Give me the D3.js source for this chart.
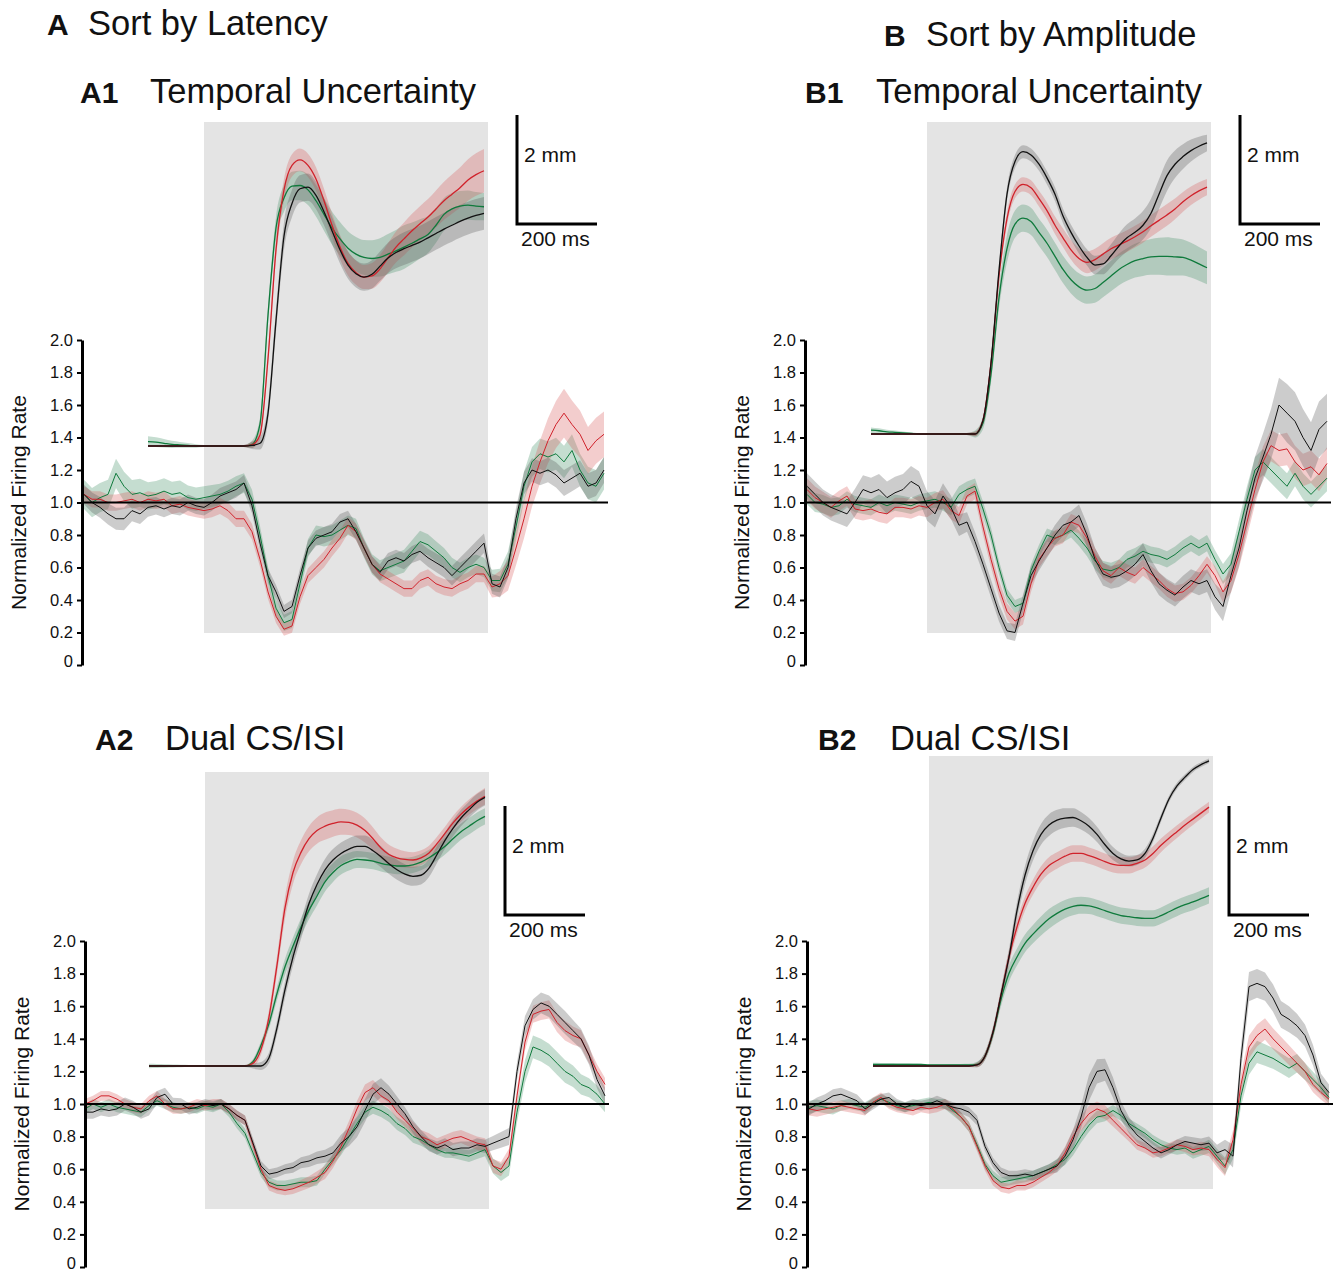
<!DOCTYPE html>
<html>
<head>
<meta charset="utf-8">
<script src="https://cdn.jsdelivr.net/npm/d3@7"></script>
<style>
  body { margin: 0; background: #fff; }
  svg { display: block; }
  text { font-family: "Liberation Sans", Arial, Helvetica, sans-serif; fill: #111; }
</style>
</head>
<body>
<svg id="fig" width="1339" height="1271"></svg>
<script>
// ---------- sample grids ----------
const fireTimes = d3.range(-300, 1001, 20);          // firing-rate samples, ms from CS onset
const lidTimes = d3.range(-140, 701, 20);            // eyelid samples, ms from CS onset
const fireSemKnots = d3.range(-300, 1001, 100);      // times where firing SEM is given
const lidSemKnots = [-140, 0, 100, 200, 300, 400, 500, 600, 700];
const rateTicks = [0, 0.2, 0.4, 0.6, 0.8, 1.0, 1.2, 1.4, 1.6, 1.8, 2.0];
const csDuration = 710;
const rateLabel = "Normalized Firing Rate";

// ---------- A1: temporal uncertainty, sorted by latency ----------
const fireA1Black = [1.05,1.0,0.97,0.93,0.9, 0.9,0.95,0.93,0.97,0.98, 0.96,0.98,0.97,1.0,0.98,
  0.97,1.0,1.04,1.06,1.08, 1.12,0.98,0.75,0.55,0.45, 0.33,0.36,0.55,0.72,0.78, 0.8,0.82,0.88,0.9,0.82,
  0.72,0.62,0.57,0.64,0.66, 0.64,0.68,0.7,0.66,0.63, 0.6,0.55,0.6,0.65,0.7, 0.75,0.5,0.48,0.6,0.9,
  1.12,1.2,1.18,1.2,1.17, 1.12,1.15,1.18,1.1,1.12, 1.2];
const fireA1Red = [1.05,1.02,1.02,1.0,1.0, 1.01,1.02,1.0,1.02,1.01, 1.02,0.98,0.99,0.97,0.96,
  0.95,0.96,0.98,0.95,0.9, 0.9,0.82,0.65,0.45,0.3, 0.22,0.24,0.42,0.55,0.6, 0.65,0.72,0.78,0.86,0.82,
  0.72,0.62,0.56,0.53,0.5, 0.47,0.47,0.52,0.54,0.5, 0.48,0.47,0.5,0.52,0.56, 0.56,0.48,0.5,0.55,0.72,
  0.9,1.1,1.25,1.38,1.48, 1.55,1.48,1.42,1.32,1.38, 1.42];
const fireA1Green = [1.05,1.0,1.03,1.05,1.18, 1.1,1.05,1.06,1.04,1.05, 1.07,1.05,1.06,1.03,1.02,
  1.03,1.04,1.05,1.07,1.1, 1.12,1.02,0.8,0.55,0.35, 0.26,0.28,0.5,0.72,0.8, 0.79,0.8,0.83,0.86,0.84,
  0.72,0.62,0.58,0.6,0.62, 0.64,0.7,0.76,0.74,0.7, 0.66,0.6,0.57,0.6,0.62, 0.6,0.52,0.52,0.62,0.85,
  1.1,1.25,1.3,1.28,1.3, 1.25,1.32,1.2,1.12,1.1, 1.18];
const semFireA1Black = [0.06,0.07,0.05,0.05,0.05,0.04,0.05,0.05,0.05,0.06,0.06,0.07,0.08,0.08];
const semFireA1Red = [0.05,0.05,0.05,0.05,0.05,0.04,0.05,0.05,0.05,0.05,0.05,0.12,0.15,0.14];
const semFireA1Green = [0.09,0.09,0.08,0.07,0.06,0.05,0.06,0.06,0.07,0.06,0.06,0.09,0.1,0.1];

const lidA1Black = [0,0,0,0,0,0,0,0,0,0,0,0,0,0.01,
  0.05,0.6,2.3,3.85,4.45, 4.72,4.75,4.6,4.3,3.95, 3.6,3.32,3.16,3.1,3.15,
  3.3,3.45,3.55,3.62,3.68, 3.74,3.82,3.9,3.98,4.05, 4.12,4.18,4.23,4.27];
const lidA1Red = [0,0,0,0,0,0,0,0,0,0,0,0,0,0.02,
  0.2,1.6,3.6,4.7,5.15, 5.25,5.15,4.9,4.5,4.05, 3.65,3.35,3.18,3.1,3.12,
  3.25,3.45,3.65,3.8,3.95, 4.08,4.2,4.35,4.5,4.62, 4.74,4.88,4.98,5.05];
const lidA1Green = [0.08,0.07,0.05,0.03,0.02,0.01,0,0,0,0,0,0,0,0.03,
  0.4,2.4,4.0,4.55,4.77, 4.78,4.7,4.5,4.25,4.0, 3.8,3.63,3.52,3.46,3.44,
  3.46,3.52,3.58,3.65,3.72, 3.8,3.88,4.05,4.25,4.35, 4.4,4.42,4.4,4.39];
const semLidA1Black = [0.02,0.01,0.02,0.25,0.25,0.25,0.3,0.3,0.3];
const semLidA1Red = [0.02,0.01,0.02,0.2,0.22,0.22,0.3,0.35,0.4];
const semLidA1Green = [0.1,0.02,0.02,0.25,0.3,0.32,0.4,0.3,0.25];

// ---------- B1: temporal uncertainty, sorted by amplitude ----------
const fireB1Black = [1.1,1.05,1.0,0.97,0.95, 0.93,1.0,1.08,1.06,1.08, 1.03,1.06,1.08,1.13,1.1,
  0.98,0.93,1.04,0.97,0.86, 0.88,0.76,0.62,0.47,0.32, 0.21,0.2,0.38,0.55,0.64, 0.72,0.8,0.86,0.88,0.92,
  0.8,0.65,0.56,0.54,0.55, 0.58,0.62,0.68,0.58,0.5, 0.46,0.43,0.48,0.52,0.5, 0.52,0.42,0.36,0.55,0.72,
  0.95,1.15,1.28,1.42,1.6, 1.55,1.5,1.4,1.32,1.45, 1.5];
const fireB1Red = [1.08,1.03,1.0,0.97,1.01, 1.04,0.96,0.95,0.96,0.94, 0.93,0.97,0.97,0.96,0.98,
  0.97,1.0,1.02,0.95,0.92, 1.04,1.07,0.85,0.65,0.47, 0.33,0.27,0.3,0.5,0.65, 0.72,0.78,0.8,0.88,0.86,
  0.78,0.67,0.58,0.55,0.6, 0.57,0.55,0.6,0.56,0.52, 0.47,0.44,0.45,0.49,0.55, 0.62,0.55,0.45,0.52,0.68,
  0.88,1.08,1.25,1.35,1.32, 1.33,1.25,1.2,1.22,1.17, 1.24];
const fireB1Green = [1.05,1.0,0.99,0.97,0.98, 1.02,0.99,0.98,0.97,1.0, 0.98,1.0,0.99,0.98,1.0,
  1.01,1.02,1.0,0.97,1.05, 1.08,1.1,0.96,0.8,0.6, 0.43,0.36,0.38,0.58,0.7, 0.8,0.78,0.8,0.83,0.78,
  0.72,0.64,0.59,0.58,0.6, 0.65,0.67,0.7,0.68,0.67, 0.65,0.68,0.72,0.75,0.72, 0.75,0.65,0.56,0.62,0.82,
  1.02,1.2,1.25,1.2,1.15, 1.1,1.18,1.1,1.05,1.1, 1.15];
const semFireB1Black = [0.08,0.08,0.1,0.09,0.06,0.05,0.06,0.07,0.07,0.07,0.07,0.12,0.18,0.17];
const semFireB1Red = [0.07,0.06,0.06,0.06,0.05,0.05,0.05,0.05,0.05,0.05,0.05,0.09,0.1,0.1];
const semFireB1Green = [0.06,0.05,0.05,0.05,0.05,0.04,0.04,0.05,0.05,0.05,0.05,0.08,0.08,0.08];

const lidB1Black = [0,0,0,0,0,0,0,0,0,0,0,0,0,0,
  0.25,1.3,3.0,4.4,5.0, 5.18,5.12,4.95,4.7,4.4, 4.0,3.7,3.45,3.24,3.1,
  3.12,3.27,3.45,3.6,3.7, 3.83,4.05,4.4,4.74,4.95, 5.09,5.2,5.28,5.34];
const lidB1Red = [0,0,0,0,0,0,0,0,0,0,0,0,0,0,
  0.25,1.3,2.9,3.95,4.45, 4.58,4.52,4.32,4.1,3.83, 3.6,3.38,3.22,3.15,3.2,
  3.3,3.4,3.47,3.54,3.62, 3.71,3.82,3.92,4.02,4.13, 4.26,4.37,4.46,4.53];
const lidB1Green = [0.07,0.06,0.04,0.03,0.02,0.01,0,0,0,0,0,0,0,0,
  0.2,1.1,2.5,3.4,3.85, 3.96,3.9,3.7,3.5,3.26, 3.02,2.83,2.7,2.64,2.67,
  2.78,2.9,3.02,3.11,3.18, 3.22,3.25,3.26,3.26,3.25, 3.24,3.19,3.12,3.05];
const semLidB1Black = [0.02,0.01,0.02,0.12,0.12,0.15,0.25,0.28,0.15];
const semLidB1Red = [0.02,0.01,0.02,0.12,0.15,0.2,0.2,0.2,0.15];
const semLidB1Green = [0.05,0.01,0.02,0.25,0.25,0.25,0.3,0.35,0.3];

// ---------- A2: dual CS/ISI, sorted by latency ----------
const fireA2Black = [0.95,0.95,0.97,0.96,0.97, 1.0,0.98,0.95,0.97,1.04, 1.06,1.0,1.0,0.97,0.98,
  1.0,0.99,1.0,0.97,0.93, 0.9,0.76,0.62,0.57,0.58, 0.6,0.61,0.64,0.65,0.67, 0.68,0.7,0.76,0.8,0.86,
  0.96,1.06,1.1,1.06,1.0, 0.94,0.86,0.8,0.75,0.73, 0.75,0.72,0.73,0.73,0.75, 0.74,0.76,0.78,0.8,1.2,
  1.48,1.58,1.62,1.6,1.55, 1.5,1.45,1.4,1.3,1.15, 1.05];
const fireA2Red = [1.0,1.02,1.05,1.05,1.03, 1.0,0.98,0.97,1.02,1.05, 1.0,0.97,0.97,0.98,1.0,
  0.99,1.0,1.0,0.97,0.93, 0.9,0.75,0.6,0.5,0.48, 0.47,0.48,0.5,0.52,0.55, 0.58,0.65,0.74,0.85,0.97,
  1.07,1.1,1.05,1.02,0.95, 0.9,0.85,0.8,0.78,0.75, 0.77,0.79,0.8,0.78,0.76, 0.75,0.62,0.6,0.68,1.05,
  1.38,1.55,1.57,1.58,1.5, 1.45,1.42,1.4,1.3,1.2, 1.12];
const fireA2Green = [0.97,1.0,0.98,1.0,0.98, 0.97,0.96,0.95,0.99,1.02, 1.0,0.98,0.97,0.98,0.97,
  0.99,0.98,1.0,0.95,0.88, 0.82,0.7,0.58,0.52,0.5, 0.5,0.51,0.52,0.52,0.53, 0.6,0.66,0.72,0.8,0.88,
  0.95,0.98,0.96,0.93,0.88, 0.85,0.8,0.78,0.75,0.72, 0.7,0.7,0.69,0.68,0.7, 0.72,0.62,0.58,0.62,0.95,
  1.2,1.35,1.33,1.3,1.25, 1.2,1.17,1.12,1.1,1.06, 1.0];
const semFireA2Black = [0.04,0.04,0.04,0.03,0.03,0.03,0.04,0.07,0.04,0.04,0.04,0.06,0.07,0.05];
const semFireA2Red = [0.03,0.03,0.03,0.03,0.03,0.03,0.04,0.05,0.04,0.04,0.04,0.05,0.06,0.04];
const semFireA2Green = [0.03,0.03,0.03,0.03,0.03,0.03,0.03,0.04,0.04,0.03,0.04,0.07,0.07,0.05];

const lidA2Black = [0,0,0,0,0,0,0,0,0,0,0,0,0,0,0,
  0.15,0.7,1.4,2.0,2.5, 2.98,3.33,3.6,3.78,3.9, 3.98,4.03,4.03,3.95,3.84,
  3.71,3.6,3.52,3.48,3.5, 3.63,3.88,4.14,4.36,4.55, 4.7,4.84,4.93];
const lidA2Red = [0,0,0,0,0,0,0,0,0,0,0,0,0,
  0.05,0.3,0.9,1.85,2.9, 3.55,3.92,4.17,4.32,4.4, 4.45,4.48,4.47,4.42,4.32,
  4.17,4.0,3.88,3.82,3.79, 3.78,3.82,3.91,4.08,4.27, 4.46,4.62,4.75,4.86,4.95];
const lidA2Green = [0,0,0,0,0,0,0,0,0,0,0,0,0,
  0.08,0.38,0.78,1.33,1.82, 2.2,2.55,2.86,3.12,3.38, 3.55,3.68,3.75,3.79,3.78,
  3.76,3.72,3.69,3.67,3.67, 3.69,3.74,3.82,3.92,4.03, 4.17,4.3,4.4,4.5,4.58];
const semLidA2Black = [0.02,0.01,0.02,0.15,0.2,0.2,0.18,0.15,0.15];
const semLidA2Red = [0.02,0.01,0.02,0.2,0.25,0.22,0.15,0.12,0.15];
const semLidA2Green = [0.04,0.01,0.02,0.15,0.18,0.15,0.15,0.15,0.15];

// ---------- B2: dual CS/ISI, sorted by amplitude ----------
const fireB2Black = [0.97,1.0,1.02,1.05,1.06, 1.04,1.02,0.97,1.0,1.03, 1.04,1.0,0.98,1.0,0.99,
  1.0,1.02,1.0,0.98,0.97, 0.95,0.9,0.74,0.64,0.58, 0.56,0.56,0.57,0.56,0.58, 0.6,0.62,0.68,0.78,0.92,
  1.1,1.2,1.21,1.1,0.96, 0.87,0.81,0.77,0.73,0.7, 0.72,0.75,0.77,0.76,0.75, 0.76,0.7,0.72,0.68,1.28,
  1.72,1.74,1.72,1.65,1.55, 1.52,1.48,1.42,1.3,1.13, 1.07];
const fireB2Red = [0.97,0.96,0.97,0.98,0.99, 0.98,0.97,0.96,1.01,1.04, 1.0,0.98,0.97,0.96,0.98,
  0.97,0.98,1.0,0.97,0.92, 0.86,0.74,0.62,0.53,0.49, 0.48,0.5,0.5,0.52,0.55, 0.58,0.62,0.7,0.8,0.88,
  0.94,0.97,0.95,0.9,0.85, 0.8,0.75,0.73,0.7,0.71, 0.73,0.75,0.74,0.72,0.73, 0.72,0.66,0.61,0.78,1.12,
  1.35,1.42,1.46,1.4,1.35, 1.3,1.25,1.2,1.12,1.07, 1.03];
const fireB2Green = [0.98,0.99,0.98,0.97,0.99, 1.0,0.99,0.98,1.01,1.03, 1.01,0.99,0.98,0.99,1.0,
  1.01,1.0,1.0,0.96,0.92, 0.86,0.75,0.63,0.56,0.52, 0.53,0.54,0.55,0.56,0.58, 0.6,0.63,0.66,0.72,0.8,
  0.87,0.92,0.93,0.96,0.93, 0.88,0.85,0.82,0.78,0.75, 0.73,0.72,0.73,0.7,0.72, 0.74,0.68,0.62,0.72,1.05,
  1.25,1.32,1.3,1.28,1.25, 1.22,1.25,1.2,1.15,1.1, 1.04];
const semFireB2Black = [0.04,0.04,0.03,0.03,0.03,0.03,0.03,0.08,0.05,0.03,0.04,0.09,0.08,0.05];
const semFireB2Red = [0.04,0.03,0.03,0.03,0.03,0.03,0.03,0.05,0.03,0.03,0.04,0.07,0.06,0.04];
const semFireB2Green = [0.04,0.03,0.03,0.03,0.03,0.03,0.03,0.04,0.03,0.03,0.04,0.07,0.06,0.04];

const lidB2Black = [0,0,0,0,0,0,0,0,0,0,0,0,0,
  0.02,0.18,0.62,1.3,2.0, 2.85,3.5,3.95,4.25,4.42, 4.51,4.55,4.56,4.5,4.4,
  4.25,4.06,3.9,3.8,3.76, 3.78,3.9,4.18,4.55,4.9, 5.14,5.3,5.44,5.53,5.6];
const lidB2Red = [0,0,0,0,0,0,0,0,0,0,0,0,0,
  0.02,0.18,0.62,1.3,2.0, 2.55,2.98,3.28,3.52,3.68, 3.77,3.85,3.9,3.9,3.86,
  3.81,3.75,3.7,3.68,3.68, 3.72,3.78,3.9,4.05,4.18, 4.3,4.42,4.53,4.64,4.75];
const lidB2Green = [0.03,0.03,0.03,0.03,0.03,0.03,0.03,0.02,0.02,0.02,0.02,0.02,0.02,
  0.03,0.18,0.6,1.22,1.7, 2.0,2.25,2.42,2.57,2.7, 2.8,2.88,2.93,2.95,2.94,
  2.9,2.85,2.8,2.76,2.74, 2.72,2.71,2.71,2.76,2.83, 2.9,2.96,3.01,3.07,3.13];
const semLidB2Black = [0.02,0.01,0.02,0.15,0.2,0.15,0.1,0.06,0.04];
const semLidB2Red = [0.02,0.01,0.02,0.12,0.15,0.15,0.15,0.12,0.1];
const semLidB2Green = [0.03,0.01,0.02,0.15,0.18,0.15,0.15,0.15,0.15];

// ---------- styling ----------
const lineColor = { black: "#111111", red: "#d0222b", green: "#0f7a3c" };
const bandColor = { black: "#555555", red: "#d65a5a", green: "#3f8f63" };
const bandOpacity = 0.3;

// ---------- layout of the four panels ----------
const panels = [
  { label: "A1", title: "Temporal Uncertainty", labelX: 80, titleX: 150, titleY: 103,
    cs: 204, axisX: 82, axisTop: 340, axisBottom: 665, grayTop: 122, grayBottom: 633,
    lidBase: 446, barX: 517, barTop: 115,
    fire: [["green", fireA1Green, semFireA1Green], ["red", fireA1Red, semFireA1Red], ["black", fireA1Black, semFireA1Black]],
    lid: [["green", lidA1Green, semLidA1Green], ["red", lidA1Red, semLidA1Red], ["black", lidA1Black, semLidA1Black]] },
  { label: "B1", title: "Temporal Uncertainty", labelX: 805, titleX: 876, titleY: 103,
    cs: 927, axisX: 805, axisTop: 340, axisBottom: 665, grayTop: 122, grayBottom: 633,
    lidBase: 434, barX: 1240, barTop: 115,
    fire: [["green", fireB1Green, semFireB1Green], ["red", fireB1Red, semFireB1Red], ["black", fireB1Black, semFireB1Black]],
    lid: [["green", lidB1Green, semLidB1Green], ["red", lidB1Red, semLidB1Red], ["black", lidB1Black, semLidB1Black]] },
  { label: "A2", title: "Dual CS/ISI", labelX: 95, titleX: 165, titleY: 750,
    cs: 205, axisX: 85, axisTop: 941, axisBottom: 1267, grayTop: 772, grayBottom: 1209,
    lidBase: 1066, barX: 505, barTop: 806,
    fire: [["green", fireA2Green, semFireA2Green], ["red", fireA2Red, semFireA2Red], ["black", fireA2Black, semFireA2Black]],
    lid: [["green", lidA2Green, semLidA2Green], ["red", lidA2Red, semLidA2Red], ["black", lidA2Black, semLidA2Black]] },
  { label: "B2", title: "Dual CS/ISI", labelX: 818, titleX: 890, titleY: 750,
    cs: 929, axisX: 807, axisTop: 941, axisBottom: 1267, grayTop: 756, grayBottom: 1189,
    lidBase: 1066, barX: 1229, barTop: 806,
    fire: [["green", fireB2Green, semFireB2Green], ["red", fireB2Red, semFireB2Red], ["black", fireB2Black, semFireB2Black]],
    lid: [["green", lidB2Green, semLidB2Green], ["red", lidB2Red, semLidB2Red], ["black", lidB2Black, semLidB2Black]] }
];

const svg = d3.select("#fig");

// column headings
svg.append("text").attr("x", 47).attr("y", 35).attr("font-size", 30).attr("font-weight", "bold").text("A");
svg.append("text").attr("x", 88).attr("y", 35).attr("font-size", 34.5).text("Sort by Latency");
svg.append("text").attr("x", 884).attr("y", 46).attr("font-size", 30).attr("font-weight", "bold").text("B");
svg.append("text").attr("x", 926).attr("y", 46).attr("font-size", 34.5).text("Sort by Amplitude");

// mean traces with SEM bands
function drawTraces(g, times, knots, series, x, y, curve, width) {
  const rows = series.map(([key, values, semKnotVals]) => {
    const sem = d3.scaleLinear().domain(knots).range(semKnotVals);
    return { key, pts: times.map((t, i) => ({ t, v: values[i], e: sem(t) })) };
  });
  const area = d3.area().x(d => x(d.t)).y0(d => y(d.v - d.e)).y1(d => y(d.v + d.e)).curve(curve);
  const line = d3.line().x(d => x(d.t)).y(d => y(d.v)).curve(curve);
  rows.forEach(r => g.append("path").attr("d", area(r.pts))
    .attr("fill", bandColor[r.key]).attr("fill-opacity", bandOpacity));
  rows.forEach(r => g.append("path").attr("d", line(r.pts))
    .attr("fill", "none").attr("stroke", lineColor[r.key]).attr("stroke-width", width)
    .attr("stroke-linejoin", "round"));
}

panels.forEach(p => {
  const g = svg.append("g");
  const x = d3.scaleLinear().domain([0, csDuration]).range([p.cs, p.cs + 284]);   // 0.4 px per ms
  const y = d3.scaleLinear().domain([0, 2]).range([p.axisBottom, p.axisTop]);
  const yLid = d3.scaleLinear().domain([0, 2]).range([p.lidBase, p.lidBase - 109]); // mm

  // panel heading
  g.append("text").attr("x", p.labelX).attr("y", p.titleY).attr("font-size", 30)
    .attr("font-weight", "bold").text(p.label);
  g.append("text").attr("x", p.titleX).attr("y", p.titleY).attr("font-size", 34.5).text(p.title);

  // CS period
  g.append("rect").attr("x", x(0)).attr("y", p.grayTop)
    .attr("width", x(csDuration) - x(0)).attr("height", p.grayBottom - p.grayTop)
    .attr("fill", "#e4e4e4");

  // eyelid position
  drawTraces(g, lidTimes, lidSemKnots, p.lid, x, yLid, d3.curveMonotoneX, 1.3);

  // firing rate
  drawTraces(g, fireTimes, fireSemKnots, p.fire, x, y, d3.curveLinear, 1);

  // baseline at 1.0
  g.append("line").attr("x1", p.axisX).attr("x2", x(1010))
    .attr("y1", y(1)).attr("y2", y(1)).attr("stroke", "#000").attr("stroke-width", 2);

  // y axis
  const ax = g.append("g").attr("transform", `translate(${p.axisX},0)`)
    .call(d3.axisLeft(y).tickValues(rateTicks)
      .tickFormat(d => d === 0 ? "0" : d.toFixed(1))
      .tickSize(5).tickSizeOuter(0).tickPadding(4));
  ax.select(".domain").attr("stroke", "#000").attr("stroke-width", 3);
  ax.selectAll(".tick line").attr("stroke", "#000").attr("stroke-width", 2);
  ax.selectAll(".tick text").attr("font-size", 16.5).attr("fill", "#111")
    .attr("font-family", '"Liberation Sans", Arial, sans-serif')
    .attr("dy", d => d === 0 ? "0.12em" : "0.32em");

  g.append("text")
    .attr("transform", `translate(${p.axisX - 56},${(p.axisTop + p.axisBottom) / 2}) rotate(-90)`)
    .attr("text-anchor", "middle").attr("font-size", 21).text(rateLabel);

  // scale bar: 2 mm / 200 ms
  const bx = p.barX, bt = p.barTop, bb = yLid(0) - yLid(2) + bt;
  g.append("path")
    .attr("d", `M${bx},${bt}V${bb}H${bx + (x(200) - x(0))}`)
    .attr("fill", "none").attr("stroke", "#000").attr("stroke-width", 3);
  g.append("text").attr("x", bx + 7).attr("y", bt + 47).attr("font-size", 21).text("2 mm");
  g.append("text").attr("x", bx + 4).attr("y", bb + 22).attr("font-size", 21).text("200 ms");
});
</script>
</body>
</html>
